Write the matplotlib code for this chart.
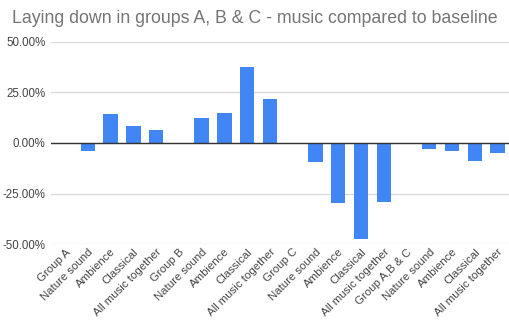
import matplotlib
matplotlib.use("Agg")
import matplotlib.pyplot as plt
from matplotlib.ticker import FuncFormatter
import numpy as np

# categories and values (percent change vs baseline)
labels = ["Group A", "Nature sound", "Ambience", "Classical", "All music together",
          "Group B", "Nature sound", "Ambience", "Classical", "All music together",
          "Group C", "Nature sound", "Ambience", "Classical", "All music together",
          "Group A,B & C", "Nature sound", "Ambience", "Classical", "All music together"]
values = [0, -4.1, 14.4, 8.4, 6.2,
          0, 12.5, 14.9, 37.8, 21.8,
          0, -9.3, -29.9, -47.4, -29.1,
          0, -2.8, -3.8, -8.9, -5.1]
yticks = [-50, -25, 0, 25, 50]

plt.rcParams['font.family'] = ['Liberation Sans', 'DejaVu Sans']

fig = plt.figure(figsize=(5.1, 3.22), dpi=100)
ax = fig.add_axes([0.1, 0.242, 0.9, 0.628])

x = np.arange(len(labels))
ax.bar(x, values, width=0.63, color="#4285f4", zorder=3)

ax.set_ylim(-50, 50)
ax.set_xlim(-0.62, 19.55)
ax.set_yticks(yticks)
ax.yaxis.set_major_formatter(FuncFormatter(lambda v, p: f"{v:.2f}%"))
ax.grid(axis="y", color="#d9d9d9", linewidth=0.9, zorder=0)
ax.axhline(0, color="#333333", linewidth=1.0, zorder=4)

ax.set_xticks(x)
ax.set_xticklabels(labels, rotation=45, ha="right", rotation_mode="anchor",
                   fontsize=8.2, color="#444444")
ax.tick_params(axis="y", labelsize=8.3, labelcolor="#444444", length=0, pad=4)
ax.tick_params(axis="x", length=0, pad=2)
for s in ax.spines.values():
    s.set_visible(False)

fig.text(0.024, 0.93, "Laying down in groups A, B & C - music compared to baseline",
         fontsize=12.75, color="#757575", ha="left", va="baseline")

fig.savefig("out.png", dpi=100)
